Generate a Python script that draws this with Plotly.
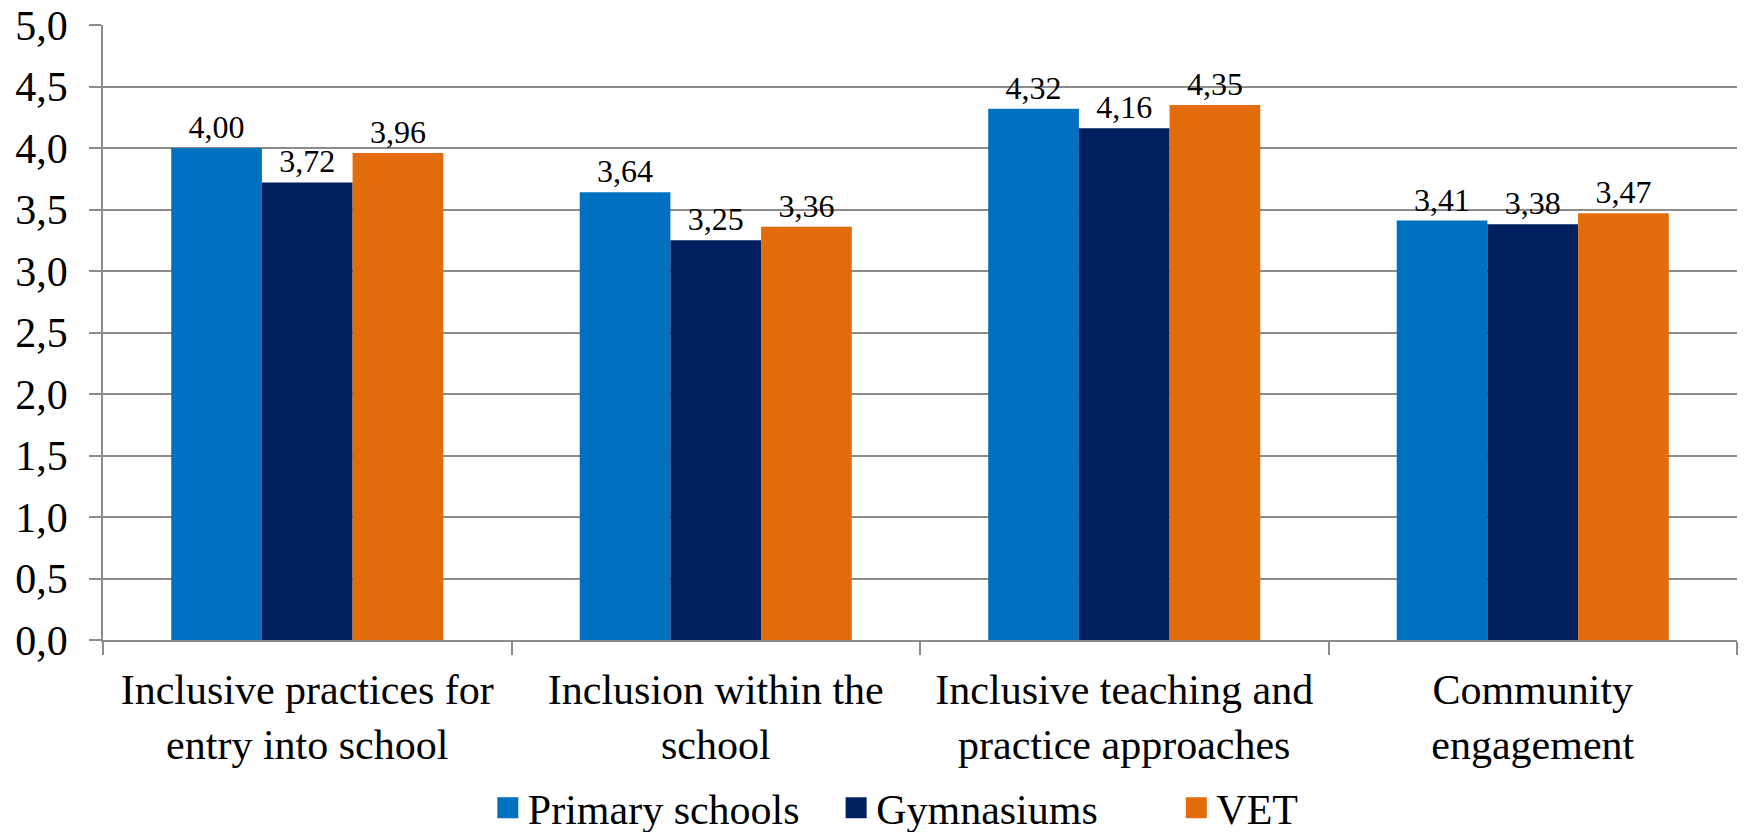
import plotly.graph_objects as go

categories = [
    "Inclusive practices for<br>entry into school",
    "Inclusion within the<br>school",
    "Inclusive teaching and<br>practice approaches",
    "Community<br>engagement",
]
series_names = ["Primary schools", "Gymnasiums", "VET"]
legend_labels = ["Primary schools" + "\u00a0" * 3, "Gymnasiums" + "\u00a0" * 7, "VET"]
primary_schools = [4.00, 3.64, 4.32, 3.41]
gymnasiums = [3.72, 3.25, 4.16, 3.38]
vet = [3.96, 3.36, 4.35, 3.47]
y_tick_values = [0.0, 0.5, 1.0, 1.5, 2.0, 2.5, 3.0, 3.5, 4.0, 4.5, 5.0]

colors = ["#0070C0", "#002060", "#E36C0A"]
FONT = "serif"
GRID = "#8c8c8c"

fig = go.Figure()
for name, vals, col in zip(series_names, [primary_schools, gymnasiums, vet], colors):
    fig.add_trace(go.Bar(
        x=categories, y=vals, name=name,
        marker=dict(color=col, line=dict(width=0)),
        texttemplate="%{y:.2f}", textposition="outside",
        textfont=dict(family=FONT, size=32, color="black"),
        cliponaxis=False, showlegend=False,
    ))
# legend entries
for label, col in zip(legend_labels, colors):
    fig.add_trace(go.Scatter(
        x=[None], y=[None], mode="markers", name=label,
        marker=dict(symbol="square", size=16, color=col, line=dict(color=col, width=5)),
        showlegend=True,
    ))

fig.update_layout(
    width=1738, height=824,
    margin=dict(l=95, r=9, t=17, b=192, autoexpand=False),
    paper_bgcolor="white", plot_bgcolor="white",
    separators=", ",
    barmode="group", bargap=0.334, bargroupgap=0,
    font=dict(family=FONT, color="black"),
    legend=dict(
        orientation="h", x=0.4852, xanchor="center", y=-0.273, yanchor="middle",
        font=dict(family=FONT, size=42, color="black"),
        itemwidth=30, traceorder="normal",
    ),
)
fig.update_xaxes(
    type="category", tickson="boundaries", ticks="outside", ticklen=13,
    tickcolor=GRID, tickwidth=1.5, showline=True, linecolor=GRID, linewidth=1.5,
    showgrid=False, tickfont=dict(family=FONT, size=42, color="black"),
    tickangle=0, ticklabelstandoff=12, automargin=False,
)
fig.update_yaxes(
    range=[0, 5], tickvals=y_tick_values, tickformat=".1f",
    ticks="outside", ticklen=12, tickcolor=GRID, tickwidth=1.5,
    showline=True, linecolor=GRID, linewidth=1.5,
    showgrid=True, gridcolor=GRID, gridwidth=1.5, zeroline=False,
    tickfont=dict(family=FONT, size=42, color="black"),
    ticklabelstandoff=13, ticklabeloverflow="allow", automargin=False,
)

fig.write_html("out.html")
